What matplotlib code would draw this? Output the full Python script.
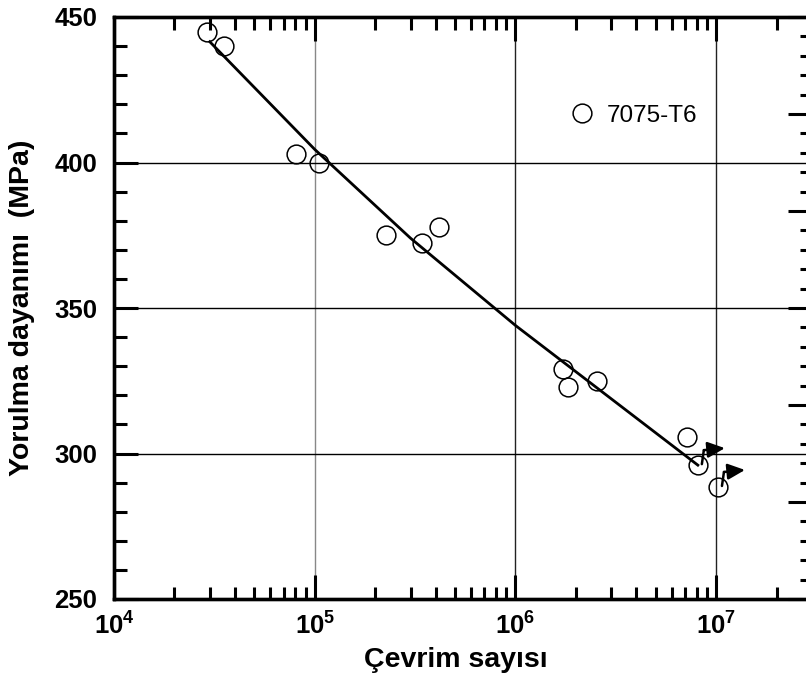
import matplotlib
matplotlib.use("Agg")
import matplotlib.pyplot as plt
from matplotlib.ticker import FixedLocator, MultipleLocator, NullFormatter
from matplotlib.transforms import offset_copy
import numpy as np

plt.rcParams['font.family'] = ['Liberation Sans', 'DejaVu Sans']
plt.rcParams['mathtext.fontset'] = 'custom'
plt.rcParams['mathtext.rm'] = 'Liberation Sans:bold'
plt.rcParams['mathtext.bf'] = 'Liberation Sans:bold'

# 7075-T6 fatigue test points (cycles, stress in MPa)
cycles = [2.9e4, 3.55e4, 8.1e4, 1.05e5, 2.26e5, 3.42e5, 4.14e5,
          1.72e6, 1.83e6, 2.54e6, 7.13e6, 8.1e6, 1.02e7]
stress = [445, 440, 403, 400, 375, 372.5, 378,
          329, 323, 325, 305.5, 296, 288.5]
# specimens that did not fail (run-outs)
runout_cycles = [8.1e6, 1.02e7]
runout_stress = [296, 288.5]

# S-N curve through the data
fit_cycles = [3e4, 1e5, 3e5, 1e6, 8.1e6]
fit_stress = [441.5, 404.5, 374, 344, 296]

decades = [1e4, 1e5, 1e6, 1e7]
decade_labels = [r'$\mathbf{10^{4}}$', r'$\mathbf{10^{5}}$',
                 r'$\mathbf{10^{6}}$', r'$\mathbf{10^{7}}$']
stress_ticks = [250, 300, 350, 400, 450]

fig = plt.figure(figsize=(8.06, 6.84), dpi=100)
ax = fig.add_axes([114/806, 1 - 599/684, 698/806, 582/684])

ax.set_xscale('log')
ax.set_xlim(1e4, 3e7)
ax.set_ylim(250, 450)

# grid
ax.grid(axis='y', which='major', color='black', lw=1.0)
grid_cols = ['none', '#888888', '#222222', '#222222']
for d, c in zip(decades, grid_cols):
    ax.axvline(d, color=c, lw=1.0, zorder=0.5)

ax.plot(fit_cycles, fit_stress, color='black', lw=2.0, zorder=3)
ax.plot(cycles, stress, 'o', ms=13.5, mfc='none', mec='black', mew=1.1,
        zorder=4, label='7075-T6')

# run-out arrows
start_tr = offset_copy(ax.transData, fig=fig, x=4, y=1, units='dots')
corner_tr = offset_copy(ax.transData, fig=fig, x=6, y=15, units='dots')
tip_tr = offset_copy(ax.transData, fig=fig, x=27, y=17, units='dots')
for n, s in zip(runout_cycles, runout_stress):
    ax.annotate('', xy=(n, s), xycoords=corner_tr, xytext=(n, s), textcoords=start_tr,
                arrowprops=dict(arrowstyle='-', lw=1.8, color='black',
                                shrinkA=0, shrinkB=0))
    ax.annotate('', xy=(n, s), xycoords=tip_tr, xytext=(n, s), textcoords=corner_tr,
                arrowprops=dict(arrowstyle='-|>,head_length=0.65,head_width=0.3',
                                mutation_scale=16, lw=1.8, color='black',
                                shrinkA=0, shrinkB=0))

# ticks
ax.set_xticks(decades, labels=decade_labels)
ax.xaxis.set_minor_locator(FixedLocator(
    [m * d for d in [1e4, 1e5, 1e6, 1e7] for m in range(2, 10)]))
ax.xaxis.set_minor_formatter(NullFormatter())
ax.set_yticks(stress_ticks)
ax.yaxis.set_minor_locator(MultipleLocator(10))
ax.tick_params(which='both', direction='in', top=True, right=False, width=2.2)
ax.tick_params(which='major', length=17.5)
ax.tick_params(which='minor', length=9)
ax.tick_params(axis='x', which='major', labelsize=18.5, pad=10)
ax.tick_params(axis='y', which='major', labelsize=18.5, pad=12)
for lab in ax.get_yticklabels():
    lab.set_fontweight('bold')

# secondary stress scale on the right
ax2 = ax.twinx()
ax2.set_ylim(35, 65)
ax2.yaxis.set_major_locator(MultipleLocator(5))
ax2.yaxis.set_minor_locator(MultipleLocator(1))
ax2.tick_params(which='both', direction='in', width=2.2, labelright=False)
ax2.tick_params(which='major', length=17.5)
ax2.tick_params(which='minor', length=9)

for a in (ax, ax2):
    for sp in a.spines.values():
        sp.set_linewidth(2.4)

ax.set_xlabel('Çevrim sayısı', fontsize=20.5, fontweight='bold')
ax.xaxis.set_label_coords(0.49, -0.083)
ax.set_ylabel('Yorulma dayanımı  (MPa)', fontsize=20.5, fontweight='bold', labelpad=14)

ax.legend(loc='center left', bbox_to_anchor=(0.653, 0.83), frameon=False,
          fontsize=17.5, handlelength=1.0, handletextpad=0.5,
          borderpad=0, borderaxespad=0)

fig.savefig('out.png', dpi=100)
